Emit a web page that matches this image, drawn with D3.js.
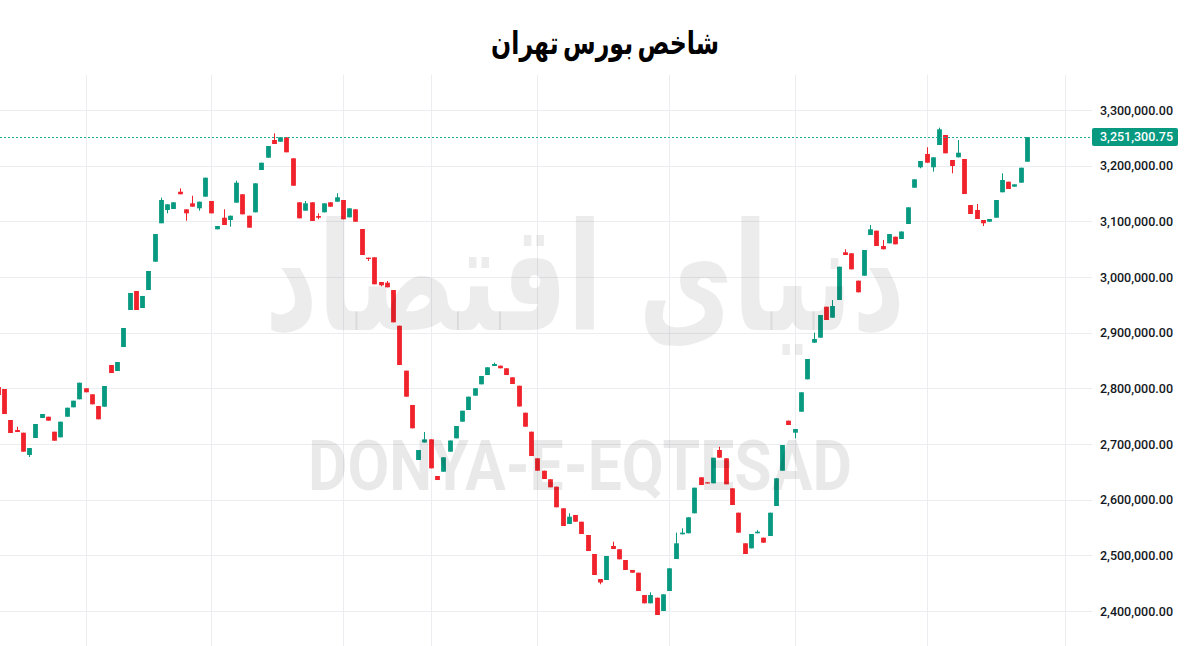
<!DOCTYPE html>
<html><head><meta charset="utf-8">
<script src="https://cdn.jsdelivr.net/npm/d3@7"></script>
<style>
html,body{margin:0;padding:0;background:#fff;}
svg{display:block;}
</style></head><body>
<svg id="chart" width="1200" height="646"></svg>
<script>
// ---- DATA ----
const titleText = "شاخص بورس تهران";
const watermarkFa = "دنیای اقتصاد";
const watermarkEn = "DONYA-E-EQTESAD";

const openV = [
2802400,2798800,2743100,2725100,2720300,2680200,2710800,2746700,2749000,2722100,
2712000,2749000,2765900,2780300,2800100,2789300,2768300,2767000,2841900,2831100,
2874200,2940700,2974800,2944300,2976600,3027500,3096500,3120400,3122200,3153200,
3121600,3132400,3123400,3144300,3136500,3085700,3106500,3102400,3133500,3148600,
3110100,3116200,3192200,3214300,3246100,3243000,3251000,3213200,3134200,3119100,
3134200,3109600,3116200,3134200,3135300,3138300,3107200,3121600,3086200,3034700,
3035400,2991000,2989800,2976600,2912500,2831700,2770100,2671300,2702700,2708400,
2642500,2650200,2686200,2710200,2740100,2761100,2786800,2807200,2823900,2840100,
2840700,2836000,2819800,2804700,2756200,2722100,2674300,2652000,2636600,2623300,
2584500,2556300,2572500,2560400,2536500,2502400,2457500,2455700,2516800,2510900,
2491600,2473700,2468800,2428700,2413800,2423900,2400000,2435900,2493400,2537800,
2539600,2575500,2640200,2631200,2629400,2689200,2674300,2620400,2576600,2521600,
2512600,2539600,2531700,2534700,2588600,2652000,2741900,2720300,2758000,2816200,
2882000,2891000,2946600,2926900,2958700,3044400,3042600,2993400,3002300,3075400,
3083200,3055700,3060500,3072400,3068300,3095200,3160400,3197100,3221000,3197100,
3237100,3255100,3210200,3215000,3212000,3129300,3120400,3102400,3099300,3106500,
3152200,3171200,3162200,3169400,3207100];

const closeV = [
2788000,2753900,2719800,2721500,2686200,2692800,2735900,2753900,2741900,2705900,
2740100,2765200,2777800,2810100,2792900,2771300,2744400,2804200,2827500,2847300,
2908400,2971300,2940700,2965900,3010800,3077200,3138300,3130600,3134200,3148600,
3114400,3126300,3135300,3178400,3114400,3091600,3093400,3110100,3169400,3112600,
3088600,3168300,3205300,3235300,3238900,3251000,3224000,3164000,3105400,3132400,
3100600,3106500,3132400,3126300,3143200,3103700,3123400,3099300,3039500,3032300,
2986900,2985100,2981500,2918600,2841900,2785000,2728200,2689200,2708400,2656300,
2635300,2676100,2706300,2732300,2759800,2785000,2800100,2822200,2837800,2843700,
2836000,2823900,2807800,2767400,2731100,2678400,2652000,2637100,2622200,2586300,
2552700,2569400,2560400,2538300,2507800,2464700,2451200,2498800,2511400,2492900,
2473700,2468800,2435900,2413800,2428700,2392800,2430000,2476700,2521600,2540700,
2568300,2621500,2626300,2629400,2675400,2675400,2627600,2590400,2540700,2502400,
2538300,2542500,2522700,2576600,2638400,2698200,2734100,2726900,2792900,2852700,
2888600,2931700,2922800,2947900,3018500,3039500,3013800,2972500,3048500,3085700,
3055700,3049800,3077200,3058700,3081700,3125200,3175500,3208400,3205300,3215000,
3265300,3222200,3199400,3223300,3149100,3113200,3104200,3096500,3104200,3138300,
3174200,3158100,3166500,3196300,3251300.75];

const highV = [
2802400,2798800,2743100,2731100,2720300,2692800,2735900,2753900,2749000,2722100,
2740100,2765200,2777800,2810100,2800100,2789300,2768300,2804200,2841900,2847300,
2908400,2971300,2974800,2965900,3010800,3077200,3142500,3130600,3134200,3159300,
3121600,3146000,3135300,3178400,3136500,3091600,3121600,3110100,3173000,3148600,
3110100,3168300,3205300,3235300,3258100,3251000,3251000,3213200,3134200,3136500,
3134200,3114400,3132400,3134200,3150400,3138300,3123400,3121600,3086200,3034700,
3035400,2991000,2992800,2976600,2912500,2831700,2770100,2689200,2721500,2708400,
2642500,2676100,2706300,2732300,2759800,2785000,2800100,2822200,2837800,2846100,
2840700,2836000,2819800,2804700,2756200,2722100,2674300,2652000,2636600,2623300,
2584500,2575500,2572500,2560400,2536500,2502400,2457500,2498800,2524500,2510900,
2491600,2473700,2468800,2428700,2433600,2423900,2430000,2476700,2540700,2548600,
2568300,2621500,2640200,2631200,2675400,2695100,2674300,2620400,2576600,2521600,
2538300,2545200,2531700,2576600,2638400,2698200,2741900,2726900,2792900,2852700,
2899900,2931700,2946600,2958700,3018500,3049800,3042600,2993400,3048500,3093400,
3083200,3066500,3077200,3072400,3081700,3125200,3175500,3208400,3233000,3215000,
3268200,3255100,3210200,3246100,3212000,3129300,3131100,3102400,3104200,3138300,
3186300,3171200,3166500,3196300,3251300.75];

const lowV = [
2788000,2753900,2719800,2721500,2686200,2676700,2710800,2746700,2741900,2705900,
2712000,2749000,2765900,2780300,2792900,2771300,2744400,2767000,2827500,2831100,
2874200,2940700,2940700,2944300,2976600,3027500,3096500,3114400,3122200,3148600,
3101100,3126300,3119100,3144300,3114400,3085700,3093400,3090400,3133500,3112600,
3088600,3116200,3192200,3214300,3238900,3243000,3224000,3164000,3105400,3119100,
3100600,3103700,3116200,3126300,3135300,3103700,3107200,3099300,3039500,3028700,
2986900,2983300,2981500,2918600,2841900,2785000,2728200,2671300,2702700,2656300,
2635300,2650200,2686200,2710200,2740100,2761100,2786800,2807200,2823900,2840100,
2836000,2823900,2807800,2767400,2731100,2678400,2652000,2637100,2622200,2586300,
2552700,2556300,2560400,2538300,2507800,2464700,2448000,2455700,2511400,2492900,
2473700,2468800,2435900,2413800,2413800,2392800,2400000,2435900,2493400,2537800,
2539600,2575500,2626300,2629400,2629400,2675400,2627600,2590400,2540700,2502400,
2512600,2539600,2522700,2534700,2588600,2652000,2734100,2710200,2758000,2816200,
2882000,2891000,2922800,2926900,2958700,3039500,3013800,2972500,3002300,3075400,
3055700,3049800,3060500,3058700,3068300,3095200,3160400,3195300,3205300,3189200,
3237100,3222200,3186300,3215000,3149100,3113200,3104200,3091600,3099300,3106500,
3152200,3158100,3162200,3169400,3207100];

const yTickValues = [2400000,2500000,2600000,2700000,2800000,2900000,3000000,3100000,3200000,3300000];
const timeGridIdx = [14,34,55,69,86,107,127,148,170];
const lastPrice = 3251300.75;

// ---- CHART ----
const UP = "#089981", DOWN = "#f0222b";
const svg = d3.select("#chart");
const plot = {left:0, right:1092, top:75, bottom:646};
const x = d3.scaleLinear().domain([0,174]).range([-2.28, -2.28 + 6.276*174]);
const y = d3.scaleLinear().domain([2400000,3300000]).range([611,110]);

svg.append("defs").append("clipPath").attr("id","clip")
  .append("rect").attr("x",plot.left).attr("y",plot.top)
  .attr("width",plot.right-plot.left).attr("height",plot.bottom-plot.top);

const grid = svg.append("g").attr("clip-path","url(#clip)");
grid.selectAll("line.h").data(yTickValues).join("line")
  .attr("x1",plot.left).attr("x2",plot.right)
  .attr("y1",d=>Math.round(y(d))+0.5).attr("y2",d=>Math.round(y(d))+0.5)
  .attr("stroke","#ebedf1").attr("stroke-width",1);
grid.selectAll("line.v").data(timeGridIdx).join("line")
  .attr("x1",d=>Math.round(x(d))+0.5).attr("x2",d=>Math.round(x(d))+0.5)
  .attr("y1",plot.top).attr("y2",plot.bottom)
  .attr("stroke","#ebedf1").attr("stroke-width",1);

// candles
const data = openV.map((o,i)=>({i, o, c:closeV[i], h:highV[i], l:lowV[i]}));
const cg = svg.append("g").attr("clip-path","url(#clip)");
const bw = 4.8;
cg.selectAll("line.wick").data(data).join("line")
  .attr("x1",d=>Math.round(x(d.i))+0.5).attr("x2",d=>Math.round(x(d.i))+0.5)
  .attr("y1",d=>y(d.h)).attr("y2",d=>y(d.l))
  .attr("stroke",d=>d.c>=d.o?UP:DOWN).attr("stroke-width",1);
cg.selectAll("rect.body").data(data).join("rect")
  .attr("x",d=>Math.round(x(d.i))+0.5-bw/2)
  .attr("width",bw)
  .attr("y",d=>y(Math.max(d.o,d.c)))
  .attr("height",d=>Math.max(1.2, Math.abs(y(d.o)-y(d.c))))
  .attr("fill",d=>d.c>=d.o?UP:DOWN);

// price line
svg.append("line")
  .attr("x1",plot.left).attr("x2",plot.right)
  .attr("y1",Math.round(y(lastPrice))+0.5).attr("y2",Math.round(y(lastPrice))+0.5)
  .attr("stroke","#22ab94").attr("stroke-width",1).attr("stroke-dasharray","2,2")
  .attr("shape-rendering","crispEdges");

// watermark (on top, translucent)
const wm = svg.append("g").attr("pointer-events","none");
const fa = wm.append("text").text(watermarkFa)
  .attr("font-family","DejaVu Sans").attr("font-weight","bold")
  .attr("font-size",130).attr("fill","#000").attr("fill-opacity",0.075);
{
  const b = fa.node().getBBox();
  const sx = (905-265)/b.width;
  fa.attr("transform",`translate(265,0) scale(${sx},1.15) translate(${-b.x},${330/1.15})`);
}
const en = wm.append("text").text(watermarkEn)
  .attr("font-family","Roboto, 'Liberation Sans', sans-serif").attr("font-weight","bold")
  .attr("font-size",70).attr("fill","#000").attr("fill-opacity",0.085);
{
  const b = en.node().getBBox();
  const sx = (852-308)/b.width;
  en.attr("transform",`translate(308,490) scale(${sx},1) translate(${-b.x},0)`);
}

// y axis
const axis = d3.axisRight(y).tickValues(yTickValues).tickSize(0).tickFormat(d3.format(",.2f"));
const ag = svg.append("g").attr("transform","translate(1173,0)").call(axis);
ag.select(".domain").remove();
ag.selectAll("text").attr("x",0).attr("text-anchor","end")
  .attr("font-family","Roboto, 'Liberation Sans', sans-serif").attr("font-size",12.5)
  .attr("font-weight",500).attr("fill","#131722");

// last price label
const ly = y(lastPrice);
svg.append("rect").attr("x",1092).attr("y",ly-9).attr("width",86).attr("height",18)
  .attr("rx",2).attr("fill",UP);
svg.append("text").attr("x",1173).attr("y",ly).attr("dy","0.35em").attr("text-anchor","end")
  .attr("font-family","Roboto, 'Liberation Sans', sans-serif").attr("font-size",12.5)
  .attr("font-weight",500).attr("fill","#fff").text(d3.format(",.2f")(lastPrice));

// title (fit to the reference's width)
const t = svg.append("text").text(titleText)
  .attr("direction","rtl").attr("word-spacing","-5")
  .attr("font-family","'DejaVu Sans', sans-serif").attr("font-weight","bold")
  .attr("font-size",32).attr("fill","#000");
{
  const b = t.node().getBBox();
  const sx = 228/b.width;
  t.attr("transform",`translate(605,54) scale(${sx},1) translate(${-(b.x + b.width/2)},0)`);
}
</script>
</body></html>
